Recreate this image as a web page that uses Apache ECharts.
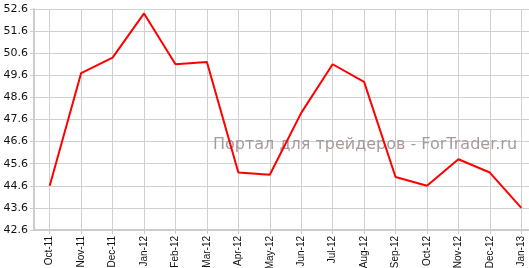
<!DOCTYPE html>
<html>
<head>
<meta charset="utf-8">
<script src="https://cdn.jsdelivr.net/npm/echarts@6/dist/echarts.min.js"></script>
<style>
html,body{margin:0;padding:0;background:#fff;}
#c{width:529px;height:268px;}
</style>
</head>
<body>
<div id="c"></div>
<script>
var categories = ["Oct-11","Nov-11","Dec-11","Jan-12","Feb-12","Mar-12","Apr-12","May-12","Jun-12","Jul-12","Aug-12","Sep-12","Oct-12","Nov-12","Dec-12","Jan-13"];
var values = [44.6, 49.7, 50.4, 52.4, 50.1, 50.2, 45.2, 45.1, 47.9, 50.1, 49.3, 45.0, 44.6, 45.8, 45.2, 43.6];
var yMin = 42.6, yMax = 52.6, yStep = 1;
var watermark = "Портал для трейдеров - ForTrader.ru";

var chart = echarts.init(document.getElementById('c'), null, {renderer:'canvas'});
chart.setOption({
  animation: false,
  backgroundColor: '#fff',
  grid: [
    {left: 34, right: -8, top: 9, bottom: 38, containLabel: false, outerBoundsMode: 'none'},
    {left: 49.7, right: 7.7, top: 9, bottom: 38, containLabel: false, outerBoundsMode: 'none'}
  ],
  graphic: [{
    type: 'text', left: 213, top: 137, z: 1,
    style: {text: watermark, fill: '#a89a9a', font: '16px "DejaVu Sans"'}
  }],
  xAxis: [{
    type: 'category', data: categories, boundaryGap: true, gridIndex: 0, z: 2,
    axisLine: {show: true, lineStyle: {color: '#cccccc', width: 2}},
    axisTick: {show: true, alignWithLabel: true, length: 4, lineStyle: {color: '#cccccc'}},
    splitLine: {show: false},
    axisLabel: {rotate: 90, interval: 0, margin: 6, color: '#111', fontFamily: 'Liberation Sans', fontSize: 10}
  }, {
    type: 'category', data: categories, boundaryGap: false, gridIndex: 1, z: 0,
    axisLine: {show: false}, axisTick: {show: false}, axisLabel: {show: false},
    splitLine: {show: true, interval: 0, lineStyle: {color: '#d0d0d0', width: 1}}
  }],
  yAxis: [{
    type: 'value', min: yMin, max: yMax, interval: yStep, gridIndex: 0,
    axisLine: {show: true, lineStyle: {color: '#cccccc', width: 2}},
    axisTick: {show: true, length: 4, lineStyle: {color: '#cccccc'}},
    splitLine: {show: true, lineStyle: {color: '#d0d0d0', width: 1}},
    axisLabel: {margin: 6, color: '#111', fontFamily: 'DejaVu Sans', fontSize: 11,
      formatter: function(v){ return v.toFixed(1); }}
  }, {
    type: 'value', min: yMin, max: yMax, interval: yStep, gridIndex: 1, show: false,
    splitLine: {show: false}
  }],
  series: [{
    type: 'line', data: values, symbol: 'none', z: 3, xAxisIndex: 0, yAxisIndex: 0,
    lineStyle: {color: '#ff0000', width: 2}
  }]
});
</script>
</body>
</html>
